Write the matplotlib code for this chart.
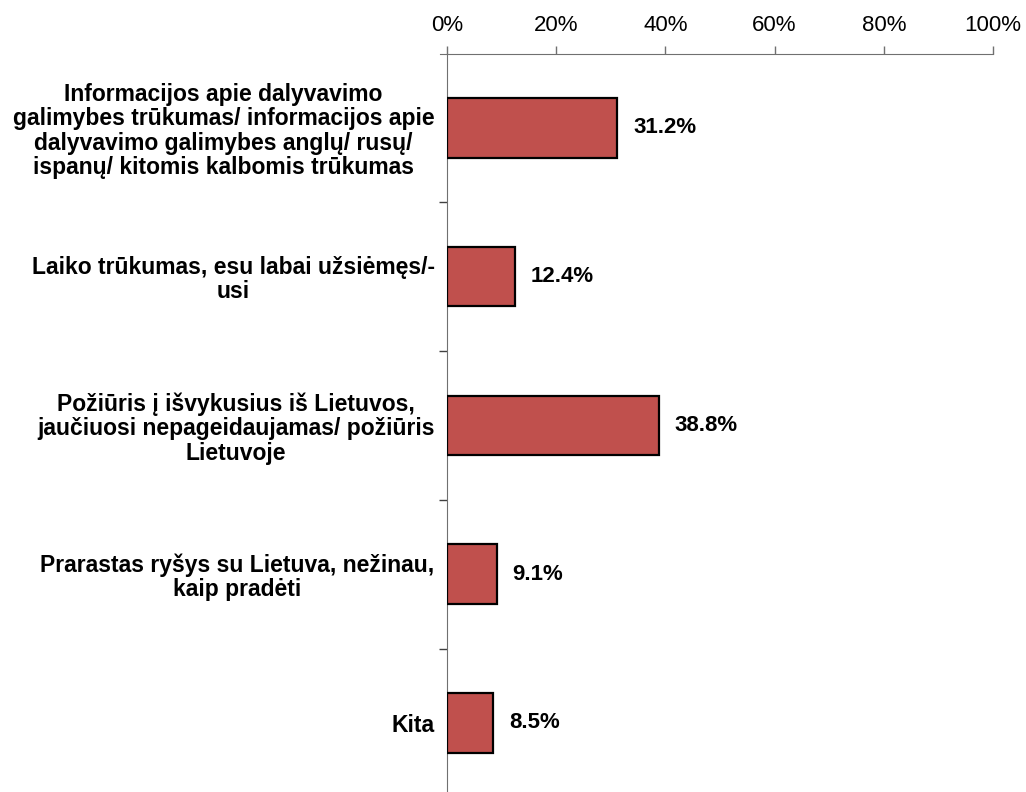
import numpy as np
import matplotlib.pyplot as plt
from matplotlib.ticker import PercentFormatter, FixedLocator

plt.rcParams['font.family'] = ['Liberation Sans', 'DejaVu Sans']

# Data
categories = [
    'Informacijos apie dalyvavimo\ngalimybes trūkumas/ informacijos apie\ndalyvavimo galimybes anglų/ rusų/\nispanų/ kitomis kalbomis trūkumas',
    'Laiko trūkumas, esu labai užsiėmęs/-\nusi',
    'Požiūris į išvykusius iš Lietuvos,\njaučiuosi nepageidaujamas/ požiūris\nLietuvoje',
    'Prarastas ryšys su Lietuva, nežinau,\nkaip pradėti',
    'Kita',
]
values = [31.2, 12.4, 38.8, 9.1, 8.5]
x_ticks = [0, 20, 40, 60, 80, 100]

fig = plt.figure(figsize=(10.26, 7.92), dpi=100)
ax = fig.add_axes([447 / 1026, 0.0, 546 / 1026, 1 - 53.6 / 792])

y = np.arange(len(categories))
ax.barh(y, values, height=0.4, color='#C0504D', edgecolor='black', linewidth=1.6, zorder=3)

for yi, v in zip(y, values):
    ax.text(v + 2.9, yi, f'{v:.1f}%', va='center', ha='left',
            fontsize=16, fontweight='bold')

ax.set_xlim(0, 100)
ax.set_ylim(len(categories) - 0.536, -0.5)

# x axis on top
ax.xaxis.tick_top()
ax.set_xticks(x_ticks)
ax.xaxis.set_major_formatter(PercentFormatter(decimals=0))
ax.tick_params(axis='x', direction='out', length=6, width=1, color='#707070',
               labelsize=16, pad=6.5)

# y ticks at category boundaries, labels at centres
ax.yaxis.set_major_locator(FixedLocator(np.arange(len(categories) - 1) + 0.5))
ax.yaxis.set_minor_locator(FixedLocator(y))
ax.set_yticklabels([], minor=False)
ax.set_yticklabels(categories, minor=True, fontsize=16.5, fontweight='bold')
for lab in ax.get_yticklabels(minor=True):
    lab.set_multialignment('center')
    lab.set_linespacing(1.07)
ax.tick_params(axis='y', which='major', direction='out', length=6, width=1, color='#404040')
ax.tick_params(axis='y', which='minor', length=0, pad=9)

for side in ['right', 'bottom']:
    ax.spines[side].set_visible(False)
ax.spines['top'].set_color('#707070')
ax.spines['top'].set_bounds(-1.3, 100)
ax.spines['left'].set_color('#707070')

fig.savefig('out.png', dpi=100)
